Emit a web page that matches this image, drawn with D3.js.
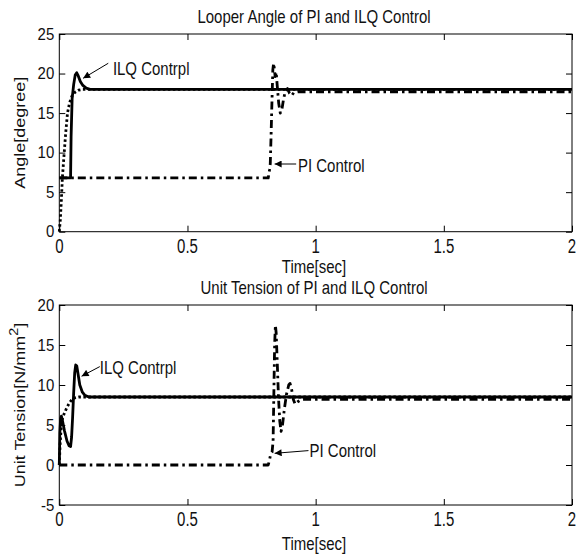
<!DOCTYPE html>
<html>
<head>
<meta charset="utf-8">
<script src="https://cdn.jsdelivr.net/npm/d3@7"></script>
<style>
body { margin: 0; background: #fff; }
text { font-family: "Liberation Sans", Arial, sans-serif; fill: #111; }
</style>
</head>
<body>
<svg id="chart" width="577" height="556"></svg>
<script>
// tick values
var timeTicks = [0, 0.5, 1, 1.5, 2];
var angleTicks = [0, 5, 10, 15, 20, 25];
var tensionTicks = [-5, 0, 5, 10, 15, 20];

// Looper angle [t, degree]
var angleILQ = [[0,6.8],[0.044,6.8],[0.046,12],[0.050,16.8],[0.056,18.6],[0.062,19.8],[0.068,20.1],
  [0.074,19.7],[0.082,19.0],[0.092,18.5],[0.105,18.15],[0.12,18.0],[2,18.0]];
var angleRef = [[0,0],[0.004,1.5],[0.008,4],[0.012,6.8],[0.018,9.5],[0.025,12.5],[0.032,15],
  [0.040,16.3],[0.050,17.2],[0.060,17.6],[0.075,17.9],[0.09,18.0],[2,18.0]];
var anglePI = [[0,6.8],[0.815,6.8],[0.82,7.8],[0.823,8.6],[0.826,12],[0.83,17],[0.833,20.5],[0.836,21.3],
  [0.839,20.6],[0.842,19.6],[0.846,20.2],[0.85,18.5],[0.856,16.2],[0.862,15.0],[0.868,15.4],[0.875,16.8],
  [0.882,17.8],[0.89,18.1],[0.898,17.5],[0.906,17.2],[0.915,17.6],[0.93,17.7],[2,17.7]];

// Unit tension [t, N/mm2]
var tensionILQ = [[0,0],[0.002,4],[0.005,5.8],[0.008,6.1],[0.012,5.6],[0.02,4.3],[0.03,3.0],[0.038,2.4],
  [0.044,2.3],[0.048,3.5],[0.052,6],[0.056,9],[0.06,11.5],[0.064,12.5],[0.068,12.4],[0.073,11.4],
  [0.08,10.0],[0.09,9.1],[0.1,8.7],[0.115,8.5],[2,8.5]];
var tensionRef = [[0,0],[0.003,2.5],[0.007,4.5],[0.012,5.8],[0.02,6.5],[0.03,7.2],[0.04,7.8],[0.05,8.2],
  [0.06,8.4],[0.075,8.5],[2,8.5]];
var tensionPI = [[0,0],[0.815,0],[0.82,0.6],[0.824,1.3],[0.83,1.6],[0.834,3],[0.837,9],[0.84,15],[0.843,17.5],
  [0.846,16.5],[0.85,13],[0.855,8.5],[0.86,5.5],[0.865,4.2],[0.87,4.8],[0.878,7],[0.886,8.8],[0.895,10],
  [0.9,10.2],[0.906,9.5],[0.913,8.2],[0.92,7.6],[0.93,7.9],[0.945,8.2],[2,8.2]];

// annotations in data units: label anchor, arrow start, arrow tip
var angleNotes = [
  {text:"ILQ Contrpl", t:0.209, v:19.8, t0:0.191, v0:21.3, t1:0.093, v1:19.4},
  {text:"PI Control",  t:0.931, v:7.6,  t0:0.924, v0:8.56, t1:0.840, v1:8.56}
];
var tensionNotes = [
  {text:"ILQ Contrpl", t:0.158, v:11.4, t0:0.158, v0:12.3, t1:0.087, v1:11.1},
  {text:"PI Control",  t:0.976, v:1.04, t0:0.972, v0:1.8,  t1:0.840, v1:1.46}
];

var svg = d3.select("#chart");
var left = 59.3, right = 572;

svg.append("defs").append("marker")
  .attr("id","head").attr("viewBox","0 0 10 10").attr("refX",10).attr("refY",5)
  .attr("markerWidth",9).attr("markerHeight",7).attr("markerUnits","userSpaceOnUse")
  .attr("orient","auto")
  .append("path").attr("d","M0,0L10,5L0,10z").attr("fill","#000");

function stretchText(g, x, y, str, size, sy, anchor) {
  return g.append("text")
    .attr("transform","translate(" + x + "," + y + ") scale(1," + sy + ")")
    .attr("font-size", size)
    .attr("text-anchor", anchor || "middle")
    .text(str);
}

function panel(top, bottom, yDomain, yTicks, title, series, notes, yLabel, xLabelGap) {
  var x = d3.scaleLinear().domain([0, 2]).range([left, right]);
  var y = d3.scaleLinear().domain(yDomain).range([bottom, top]);
  var g = svg.append("g");

  g.append("rect").attr("x", left).attr("y", top)
    .attr("width", right - left).attr("height", bottom - top)
    .attr("fill","none").attr("stroke","#000").attr("stroke-width",1);

  // inside ticks on all four sides
  g.append("g").attr("transform","translate(0," + bottom + ")")
    .call(d3.axisBottom(x).tickValues(timeTicks).tickSize(-6).tickFormat(""))
    .call(a => a.select(".domain").remove());
  g.append("g").attr("transform","translate(0," + top + ")")
    .call(d3.axisTop(x).tickValues(timeTicks).tickSize(-6).tickFormat(""))
    .call(a => a.select(".domain").remove());
  g.append("g").attr("transform","translate(" + left + ",0)")
    .call(d3.axisLeft(y).tickValues(yTicks).tickSize(-6).tickFormat(""))
    .call(a => a.select(".domain").remove());
  g.append("g").attr("transform","translate(" + right + ",0)")
    .call(d3.axisRight(y).tickValues(yTicks).tickSize(-6).tickFormat(""))
    .call(a => a.select(".domain").remove());

  timeTicks.forEach(function(t) {
    stretchText(g, x(t), bottom + 21, String(t), 15, 1.3, "middle");
  });
  yTicks.forEach(function(v) {
    stretchText(g, left - 5, y(v) + 5.5, String(v), 15, 1.1, "end");
  });

  stretchText(g, 314, top - 11, title, 15, 1.2, "middle");
  stretchText(g, 314, bottom + xLabelGap, "Time[sec]", 15, 1.2, "middle");

  var yl = g.append("text")
    .attr("transform","translate(25," + ((top + bottom) / 2) + ") rotate(-90) scale(1.2,1)")
    .attr("font-size", 15).attr("text-anchor","middle");
  yLabel(yl);

  var line = d3.line().x(d => x(d[0])).y(d => y(d[1]));
  series.forEach(function(s) {
    g.append("path").datum(s.data)
      .attr("d", line).attr("fill","none").attr("stroke","#000")
      .attr("stroke-width", s.w).attr("stroke-dasharray", s.dash)
      .attr("stroke-linejoin","round");
  });

  notes.forEach(function(n) {
    g.append("line")
      .attr("x1", x(n.t0)).attr("y1", y(n.v0))
      .attr("x2", x(n.t1)).attr("y2", y(n.v1))
      .attr("stroke","#000").attr("stroke-width",1)
      .attr("marker-end","url(#head)");
    stretchText(g, x(n.t), y(n.v), n.text, 15, 1.2, "start");
  });
}

panel(34, 231.7, [0, 25], angleTicks, "Looper Angle of PI and ILQ Control",
  [{data: anglePI, w: 2.8, dash: "8,4,2.5,4"},
   {data: angleRef, w: 2.8, dash: "2.5,2.5"},
   {data: angleILQ, w: 2.8, dash: null}],
  angleNotes,
  function(t) { t.text("Angle[degree]"); }, 41);

panel(305, 505, [-5, 20], tensionTicks, "Unit Tension of PI and ILQ Control",
  [{data: tensionPI, w: 2.8, dash: "8,4,2.5,4"},
   {data: tensionRef, w: 2.8, dash: "2.5,2.5"},
   {data: tensionILQ, w: 2.8, dash: null}],
  tensionNotes,
  function(t) {
    t.append("tspan").text("Unit Tension[N/mm");
    t.append("tspan").attr("dy", -7).attr("font-size", 12).text("2");
    t.append("tspan").attr("dy", 7).text("]");
  }, 45);
</script>
</body>
</html>
